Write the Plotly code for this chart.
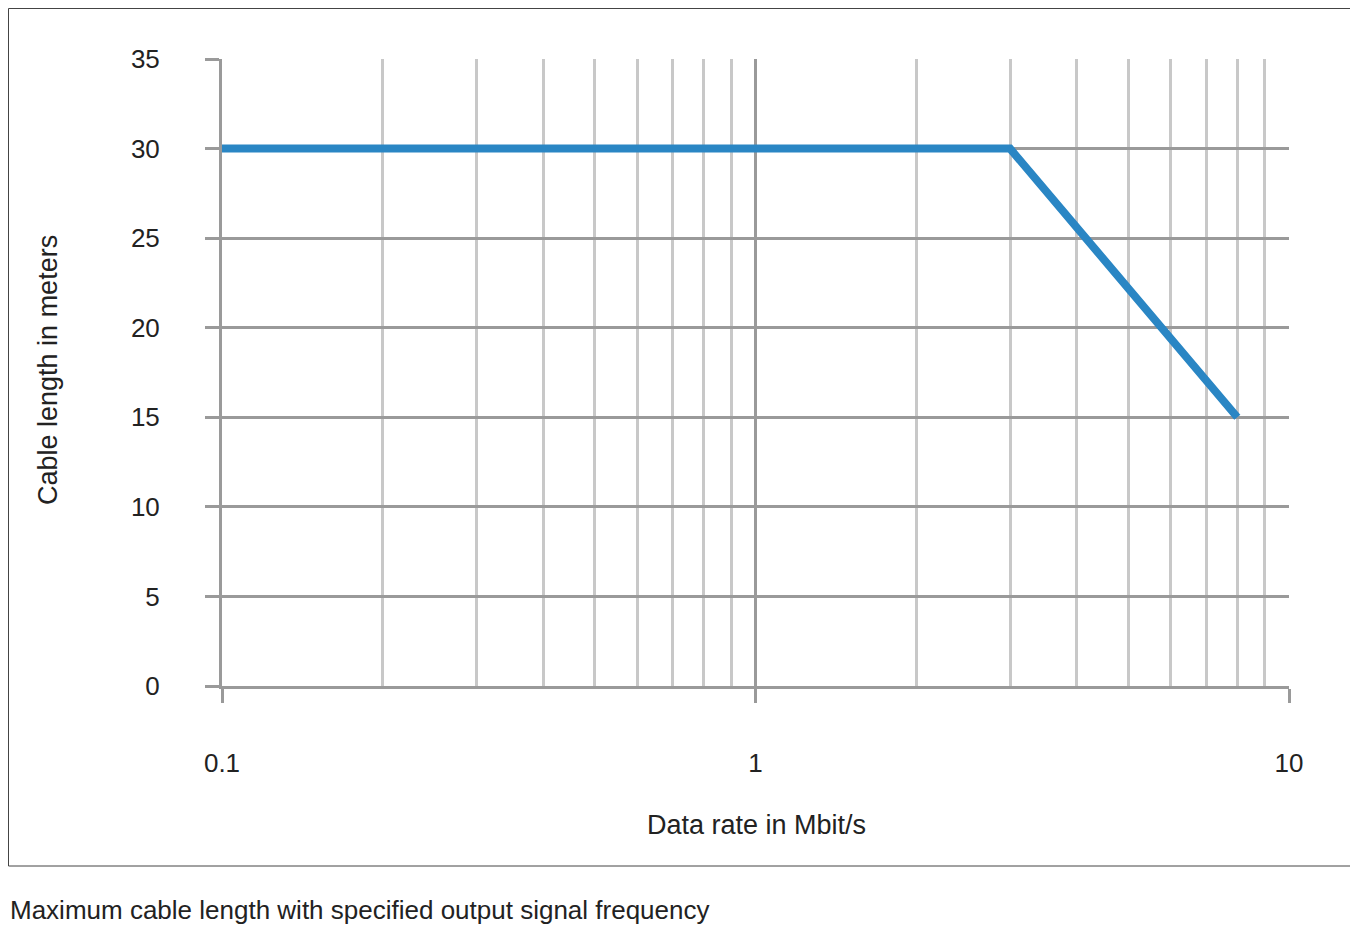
import plotly.graph_objects as go

rate = [0.1, 3, 8]
length = [30, 30, 15]
y_ticks = [0, 5, 10, 15, 20, 25, 30, 35]
x_major = [0.1, 1, 10]
x_major_labels = ["0.1", "1", "10"]
x_minor = [0.2, 0.3, 0.4, 0.5, 0.6, 0.7, 0.8, 0.9, 2, 3, 4, 5, 6, 7, 8, 9]

OFF = 8  # page body margin
W, H = 1358 - OFF, 929 - OFF
L, R, T, B = 222 - OFF, 1289 - OFF, 59 - OFF, 686 - OFF
pw, ph = R - L, B - T
def px(x): return (x - OFF - L) / pw
def py(y): return (B - (y - OFF)) / ph

narrow = "Liberation Sans Narrow, Arial Narrow, sans-serif"
fig = go.Figure(go.Scatter(x=rate, y=length, mode="lines",
                           line=dict(color="#2a86c4", width=8), showlegend=False))
fig.update_layout(
    width=W, height=H, paper_bgcolor="white", plot_bgcolor="white",
    margin=dict(l=L, r=W - R, t=T, b=H - B),
    font=dict(family="Liberation Sans, Arial, sans-serif", size=26, color="#222"),
    xaxis=dict(type="log", range=[-1, 1], tickvals=x_major, ticktext=x_major_labels,
               showgrid=True, gridcolor="#9a9a9a", gridwidth=3,
               ticks="outside", ticklen=14, tickwidth=3, tickcolor="#9a9a9a",
               ticklabelstandoff=38,
               minor=dict(tickvals=x_minor, showgrid=True, gridcolor="#c8c8c8", gridwidth=3),
               showline=True, linecolor="#9a9a9a", linewidth=3, zeroline=False),
    yaxis=dict(range=[0, 35], tickvals=y_ticks, showgrid=True, gridcolor="#9a9a9a", gridwidth=3,
               ticks="outside", ticklen=14, tickwidth=3, tickcolor="#9a9a9a",
               ticklabelstandoff=40,
               showline=True, linecolor="#9a9a9a", linewidth=3, zeroline=False),
    shapes=[dict(type="rect", xref="paper", yref="paper",
                 x0=px(OFF + 0.5), x1=px(1357), y0=py(866), y1=py(OFF + 0.5),
                 line=dict(color="#444", width=1))],
    annotations=[
        dict(text="Data rate in Mbit/s", xref="paper", yref="paper", x=px(756), y=py(825),
             showarrow=False, font=dict(family=narrow, size=27, color="#222"),
             xanchor="center", yanchor="middle"),
        dict(text="Cable length in meters", xref="paper", yref="paper", x=px(48), y=py(370),
             showarrow=False, textangle=-90, font=dict(family=narrow, size=27, color="#222"),
             xanchor="center", yanchor="middle"),
        dict(text="Maximum cable length with specified output signal frequency", xref="paper",
             yref="paper", x=px(OFF), y=py(910), showarrow=False,
             font=dict(family=narrow, size=26, color="#222"), xanchor="left", yanchor="middle"),
    ],
)
fig.write_html("out.html")
